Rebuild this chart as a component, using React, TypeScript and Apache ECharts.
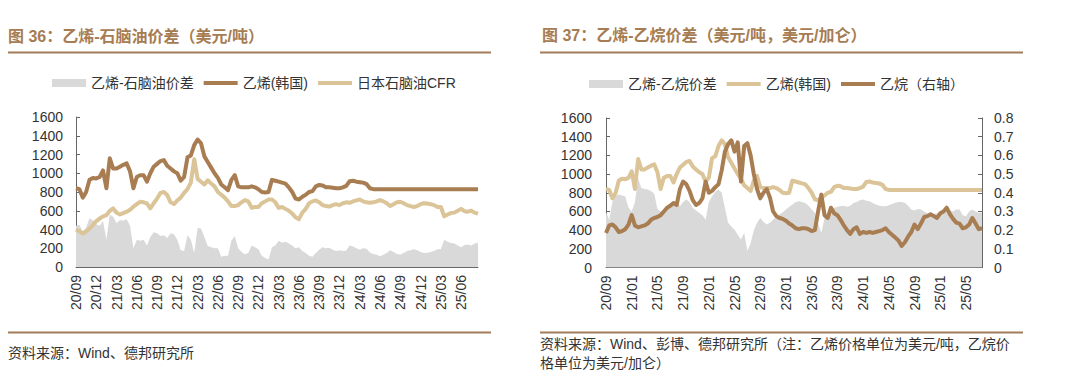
import React, { useEffect, useRef } from "react";
import * as echarts from "echarts";

const FONT = '"Liberation Sans", Arial, "Noto Sans CJK SC", sans-serif';
const TITLE_COLOR = "#a67c52";
const SEP_COLOR = "#a47d58";
const DARK = "#a97d52";
const LIGHT = "#dac498";
const GRAY = "#d9d9d9";
const AXIS = "#666666";
const TEXT = "#333333";

// half-month categories starting 2020-09
function buildDates(n: number): string[] {
  const out: string[] = [];
  for (let i = 0; i < n; i++) {
    const m = Math.floor(i / 2);
    const y = 2020 + Math.floor((8 + m) / 12);
    const mo = ((8 + m) % 12) + 1;
    const d = i % 2 === 0 ? "01" : "16";
    out.push(`${y}-${mo < 10 ? "0" + mo : mo}-${d}`);
  }
  return out;
}

const LEFT_DATES = buildDates(120);
const RIGHT_DATES = buildDates(118);

// 乙烯(韩国) USD/t
const ethylene = [
  840, 830, 740, 800, 930, 950, 945, 960, 1030, 840,
  1160, 1050, 1050, 1070, 1090, 1105, 1020, 840, 960, 980,
  980, 910, 1000, 1070, 1100, 1130, 1140, 1080, 1050, 1020,
  1000, 920, 960, 1170, 1190, 1300, 1360, 1320, 1180, 1120,
  1060, 1000, 950, 880, 850, 820, 930, 980, 860, 850,
  850, 850, 860, 850, 830, 800, 795, 800, 930, 920,
  910, 900, 890, 850, 800, 730, 720, 750, 770, 800,
  810, 860, 875, 870, 850, 850, 845, 840, 840, 850,
  865, 915, 920, 910, 905, 900, 885, 840, 830, 830,
  830, 830, 830, 830, 830, 830, 830, 830, 830, 830,
  830, 830, 830, 830, 830, 830, 830, 830, 830, 830,
  830, 830, 830, 830, 830, 830, 830, 830, 830, 830,
];

// 日本石脑油CFR USD/t
const naphtha = [
  400, 380, 357, 380, 410, 450, 490, 517, 540, 553,
  600, 625, 580, 560, 575, 590, 610, 643, 670, 696,
  690, 678, 625, 680, 730, 790, 800, 767, 690, 671,
  710, 740, 790, 830, 900, 1150, 940, 910, 880, 925,
  890, 860, 800, 770, 740, 700, 650, 650, 660, 690,
  714, 700, 630, 640, 640, 680, 700, 720, 720, 690,
  630, 640, 620, 600, 570, 530, 510, 580, 620, 680,
  700, 710, 690, 660, 650, 645, 660, 670, 660, 680,
  690, 685, 700, 710, 720, 700, 690, 685, 690, 700,
  714, 700, 680, 650, 670, 690, 696, 680, 660, 650,
  640, 650, 670, 680, 678, 670, 660, 640, 640, 540,
  560, 575, 580, 600, 620, 595, 590, 600, 580, 570,
];

// 乙烯-石脑油价差 USD/t
const naphthaSpread = [
  440, 450, 380, 420, 520, 500, 455, 440, 490, 290,
  560, 535, 470, 500, 495, 510, 440, 200, 290, 280,
  290, 230, 320, 370, 360, 330, 340, 310, 360, 350,
  290, 180, 170, 340, 290, 150, 420, 410, 320, 225,
  210, 200, 200, 110, 120, 120, 280, 330, 200, 160,
  136, 150, 230, 210, 190, 120, 95, 80, 210, 230,
  280, 260, 270, 250, 230, 200, 210, 170, 150, 120,
  110, 150, 185, 210, 200, 205, 185, 170, 180, 170,
  175, 230, 220, 200, 185, 200, 195, 155, 140, 130,
  116, 130, 150, 180, 160, 140, 134, 150, 170, 180,
  190, 180, 160, 150, 152, 160, 170, 190, 190, 290,
  270, 255, 250, 230, 210, 235, 240, 230, 250, 260,
];

// 乙烷 USD/gal (right axis)
const ethane = [
  0.185, 0.225, 0.23, 0.215, 0.19, 0.195, 0.205, 0.23, 0.28, 0.225,
  0.215, 0.22, 0.225, 0.235, 0.255, 0.265, 0.27, 0.28, 0.3, 0.32,
  0.33, 0.345, 0.335, 0.42, 0.46, 0.445, 0.41, 0.36, 0.335, 0.345,
  0.37, 0.46, 0.4, 0.41, 0.43, 0.445, 0.52, 0.62, 0.66, 0.68,
  0.62, 0.67, 0.46, 0.65, 0.665, 0.6, 0.5, 0.42, 0.37, 0.4,
  0.42, 0.375, 0.3, 0.275, 0.265, 0.26, 0.25, 0.235, 0.225, 0.21,
  0.205, 0.21, 0.21, 0.205, 0.195, 0.2, 0.3, 0.39, 0.28, 0.265,
  0.32, 0.29, 0.28, 0.255, 0.225, 0.2, 0.18, 0.205, 0.215, 0.18,
  0.19, 0.185, 0.19, 0.185, 0.19, 0.195, 0.2, 0.21, 0.19, 0.175,
  0.16, 0.145, 0.115, 0.135, 0.165, 0.19, 0.23, 0.205, 0.235, 0.27,
  0.275, 0.285, 0.275, 0.265, 0.29, 0.3, 0.32, 0.285, 0.26, 0.24,
  0.235, 0.21, 0.215, 0.23, 0.265, 0.235, 0.205, 0.21,
];

// 乙烯-乙烷价差 USD/t
const ethaneSpread = [
  590, 510, 700, 770, 780, 770, 760, 640, 600, 700,
  950, 850, 840, 836, 820, 790, 630, 600, 585, 650,
  660, 690, 700, 656, 700, 728, 700, 640, 610, 585,
  560, 510, 700, 760, 810, 836, 800, 640, 480, 440,
  405, 350, 300, 370, 180, 260, 400, 480, 530, 490,
  460, 480, 513, 540, 566, 590, 620, 650, 674, 700,
  710, 700, 690, 660, 620, 585, 470, 370, 530, 580,
  620, 640, 650, 656, 660, 650, 660, 690, 700, 720,
  728, 715, 710, 690, 674, 660, 655, 656, 665, 680,
  692, 700, 700, 692, 660, 620, 610, 625, 620, 600,
  580, 566, 575, 580, 585, 595, 602, 610, 600, 620,
  620, 560, 548, 600, 620, 600, 585, 590,
];

const ethyleneRight = ethylene.slice(0, 118);

const dateLabel = (v: string) => v.slice(2, 4) + "/" + v.slice(5, 7);
const LINE_ICON = "path://M0 0H34V4H0Z";

function xAxisCfg(dates: string[], every: number) {
  const show = (i: number) => i % every === 0;
  return {
    type: "category",
    data: dates,
    boundaryGap: false,
    axisLine: { show: true, lineStyle: { color: AXIS, width: 1 } },
    axisTick: { show: true, inside: true, length: 5, interval: show, lineStyle: { color: AXIS } },
    axisLabel: {
      interval: show,
      rotate: 90,
      margin: 8,
      formatter: dateLabel,
      fontSize: 14,
      color: TEXT,
      fontFamily: FONT,
    },
    splitLine: { show: false },
  };
}

function yAxisCfg(min: number, max: number, interval: number, margin: number, extra: any = {}) {
  return {
    type: "value",
    min,
    max,
    interval,
    axisLine: { show: true, lineStyle: { color: AXIS, width: 1 } },
    axisTick: { show: true, inside: true, length: 4, lineStyle: { color: AXIS } },
    axisLabel: {
      margin,
      fontSize: 14,
      color: TEXT,
      fontFamily: FONT,
      formatter: (v: number) => String(v),
      ...(extra.axisLabel || {}),
    },
    splitLine: { show: false },
    ...(extra.base || {}),
  };
}

function areaSeries(name: string, data: number[], yAxisIndex = 0) {
  return {
    name,
    type: "line",
    data,
    yAxisIndex,
    symbol: "none",
    showSymbol: false,
    silent: true,
    lineStyle: { width: 0, color: GRAY, opacity: 0 },
    itemStyle: { color: GRAY },
    areaStyle: { color: GRAY, opacity: 1 },
    z: 1,
  };
}

function lineSeries(name: string, data: number[], color: string, yAxisIndex = 0, z = 3) {
  return {
    name,
    type: "line",
    data,
    yAxisIndex,
    symbol: "none",
    showSymbol: false,
    silent: true,
    lineStyle: { width: 4, color, join: "round" },
    itemStyle: { color },
    z,
  };
}

function legendCfg(left: number, top: number, grayName: string, lines: [string, string][]) {
  return {
    left,
    top,
    padding: 0,
    itemWidth: 34,
    itemHeight: 8,
    itemGap: 10,
    selectedMode: false,
    textStyle: { fontSize: 14, color: TEXT, fontFamily: FONT },
    data: [
      { name: grayName, icon: "rect", itemStyle: { color: GRAY, borderWidth: 0 } },
      ...lines.map(([name, color]) => ({ name, icon: LINE_ICON, itemStyle: { color, borderWidth: 0 } })),
    ],
  };
}

function textEl(x: number, y: number, text: string, size: number, color: string, bold = false) {
  return {
    type: "text",
    x,
    y,
    silent: true,
    style: {
      text,
      fill: color,
      fontSize: size,
      fontWeight: bold ? "bold" : "normal",
      fontFamily: FONT,
      verticalAlign: "middle",
      align: "left",
    },
  };
}

function sepEl(x: number, y: number, w: number) {
  return { type: "rect", silent: true, shape: { x, y, width: w, height: 2 }, style: { fill: SEP_COLOR } };
}

function leftOption() {
  return {
    animation: false,
    grid: { left: 76, top: 117, width: 402, height: 150, outerBoundsMode: "none", containLabel: false },
    legend: legendCfg(52, 76, "乙烯-石脑油价差", [["乙烯(韩国)", DARK], ["日本石脑油CFR", LIGHT]]),
    xAxis: xAxisCfg(LEFT_DATES, 6),
    yAxis: yAxisCfg(0, 1600, 200, 13),
    series: [
      areaSeries("乙烯-石脑油价差", naphthaSpread),
      lineSeries("乙烯(韩国)", ethylene, DARK, 0, 4),
      lineSeries("日本石脑油CFR", naphtha, LIGHT, 0, 3),
    ],
    graphic: [
      textEl(8, 36, "图 36：乙烯-石脑油价差（美元/吨）", 16, TITLE_COLOR, true),
      sepEl(8, 51.5, 483),
      sepEl(8, 331.5, 483),
      textEl(8, 353, "资料来源：Wind、德邦研究所", 14, TEXT),
    ],
  };
}

function rightOption() {
  return {
    animation: false,
    grid: { left: 66, top: 118, width: 376, height: 149.5, outerBoundsMode: "none", containLabel: false },
    legend: legendCfg(49, 77, "乙烯-乙烷价差", [["乙烯(韩国)", LIGHT], ["乙烷（右轴）", DARK]]),
    xAxis: xAxisCfg(RIGHT_DATES, 8),
    yAxis: [
      yAxisCfg(0, 1600, 200, 14, { base: { position: "left" } }),
      yAxisCfg(0, 0.8, 0.1, 12, {
        base: { position: "right" },
        axisLabel: { formatter: (v: number) => (v === 0 ? "0" : v.toFixed(1)) },
      }),
    ],
    series: [
      areaSeries("乙烯-乙烷价差", ethaneSpread, 0),
      lineSeries("乙烯(韩国)", ethyleneRight, LIGHT, 0, 3),
      lineSeries("乙烷（右轴）", ethane, DARK, 1, 4),
    ],
    graphic: [
      textEl(2, 35, "图 37：乙烯-乙烷价差（美元/吨，美元/加仑）", 16, TITLE_COLOR, true),
      sepEl(0, 51.5, 483),
      sepEl(0, 331.5, 483),
      textEl(0, 344, "资料来源：Wind、彭博、德邦研究所（注：乙烯价格单位为美元/吨，乙烷价", 14, TEXT),
      textEl(0, 363, "格单位为美元/加仑）", 14, TEXT),
    ],
  };
}

export default function App() {
  const leftRef = useRef<HTMLDivElement>(null);
  const rightRef = useRef<HTMLDivElement>(null);
  useEffect(() => {
    const a = echarts.init(leftRef.current as HTMLDivElement, undefined, { renderer: "svg" });
    a.setOption(leftOption() as any);
    const b = echarts.init(rightRef.current as HTMLDivElement, undefined, { renderer: "svg" });
    b.setOption(rightOption() as any);
    return () => {
      a.dispose();
      b.dispose();
    };
  }, []);
  return (
    <div style={{ position: "absolute", left: 0, top: 0, width: 1080, height: 380, background: "#fff" }}>
      <div ref={leftRef} style={{ position: "absolute", left: 0, top: 0, width: 540, height: 380 }} />
      <div ref={rightRef} style={{ position: "absolute", left: 540, top: 0, width: 540, height: 380 }} />
    </div>
  );
}
